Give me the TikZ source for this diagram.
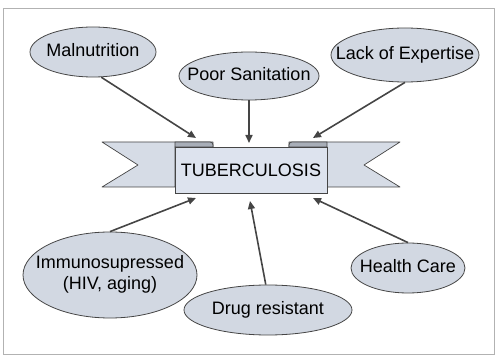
\documentclass[tikz,border=0pt]{standalone}
\usepackage{fontspec}
\setmainfont{Liberation Sans}
\usetikzlibrary{shapes.geometric,arrows.meta}
\definecolor{ellfill}{HTML}{D2D8E2}
\definecolor{boxfill}{HTML}{DDE3EE}
\definecolor{ribfill}{HTML}{D6DCE6}
\definecolor{foldfill}{HTML}{A8AEB8}
\definecolor{edge}{HTML}{454545}
\newcommand\elltext[1]{\makebox[0pt]{\begin{tabular}{@{}c@{}}#1\end{tabular}}}
\begin{document}
\begin{tikzpicture}[x=1pt,y=-1pt,
  cause/.style={ellipse,draw=edge,line width=0.8pt,fill=ellfill,inner sep=0pt,
    font=\fontsize{18}{21}\selectfont},
  arr/.style={draw=edge,line width=1.6pt,-{Triangle[length=8pt,width=7pt]}},
  ribbon/.style={draw=edge,line width=0.7pt,fill=ribfill,line join=round},
  fold/.style={draw=edge,line width=0.7pt,fill=foldfill}]
\useasboundingbox (0,0) rectangle (496,358);
\draw[gray!60,line width=0.9pt] (3,8) rectangle (494,354);
% ribbon ends
\path[ribbon] (102,142) -- (213,142) -- (213,147) -- (175,147) -- (175,187) -- (102,187) -- (138,165) -- cycle;
\path[ribbon] (400,142) -- (289,142) -- (289,147) -- (327,147) -- (327,187) -- (400,187) -- (364,165) -- cycle;
\path[fold] (175,147) -- (175,142) -- (210,142) to[out=0,in=90] (213,145) -- (213,147) -- cycle;
\path[fold] (327,147) -- (327,142) -- (292,142) to[out=180,in=90] (289,145) -- (289,147) -- cycle;
\node[draw=edge,line width=0.8pt,fill=boxfill,minimum width=152pt,minimum height=46pt,
  inner sep=0pt,font=\fontsize{18}{21}\selectfont] (tb) at (251,170) {TUBERCULOSIS};
% causes
\node[cause,minimum width=126pt,minimum height=50pt] (mal) at (93,52) {\elltext{Malnutrition}};
\node[cause,minimum width=140pt,minimum height=48pt] (san) at (249,76) {\elltext{Poor Sanitation}};
\node[cause,minimum width=148pt,minimum height=54pt] (lack) at (405,55) {\elltext{Lack of Expertise}};
\node[cause,minimum width=174pt,minimum height=86pt] (imm) at (110,275) {\elltext{Immunosupressed\\(HIV, aging)}};
\node[cause,minimum width=168pt,minimum height=50pt] (drug) at (268,310) {\elltext{Drug resistant}};
\node[cause,minimum width=114pt,minimum height=50pt] (hc) at (408,268) {\elltext{Health Care}};
% arrow targets
\coordinate (t1) at (196,138);
\coordinate (t2) at (249,143);
\coordinate (t3) at (313,138);
\coordinate (t4) at (196,198);
\coordinate (t5) at (250,201);
\coordinate (t6) at (313,198);
\draw[arr] (mal.-72) -- (t1);
\draw[arr] (san.south) -- (t2);
\draw[arr] (lack.south) -- (t3);
\draw[arr] (imm.north) -- (t4);
\draw[arr] (drug.95) -- (t5);
\draw[arr] (hc.north) -- (t6);
\end{tikzpicture}
\end{document}
